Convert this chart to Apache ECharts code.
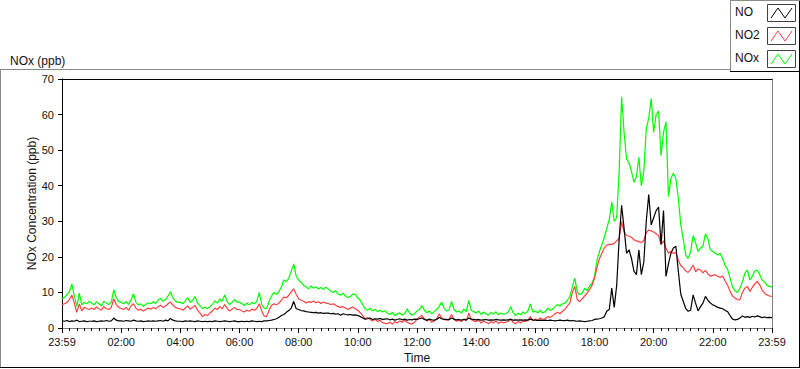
<!DOCTYPE html>
<html><head><meta charset="utf-8">
<script src="https://cdn.jsdelivr.net/npm/echarts@6/dist/echarts.min.js"></script>
<style>html,body{margin:0;padding:0;background:#fff}#c{width:800px;height:369px}</style>
</head><body><div id="c"></div>
<script>
// ---- data ----
const seriesNames = ['NO', 'NO2', 'NOx'];
const seriesColors = ['#000000', '#ff4040', '#00ff00'];
const titleText = 'NOx (ppb)';
const yAxisTitle = 'NOx Concentration (ppb)';
const xAxisTitle = 'Time';
const xTickLabels = ['23:59','02:00','04:00','06:00','08:00','10:00','12:00','14:00','16:00','18:00','20:00','22:00','23:59'];
const yTicks = [0, 10, 20, 30, 40, 50, 60, 70];
const STEP_MIN = 5; // one sample every 5 minutes, starting 23:59

const noValues = [
 2.0,1.9,2.1,1.8,2.0,1.9,2.2,1.8,1.9,2.0,1.8,1.9,
 1.9,2.0,1.8,1.9,2.0,1.9,2.1,1.9,2.0,2.8,2.2,2.0,
 2.0,1.9,2.1,2.0,1.9,2.2,2.0,1.9,2.0,1.8,1.9,2.0,
 1.9,2.0,1.9,2.0,2.1,1.9,2.2,2.0,2.7,2.2,2.0,1.9,
 1.9,1.8,2.0,1.9,2.0,1.9,1.8,2.0,1.9,1.8,1.9,1.8,
 1.9,1.8,2.0,1.9,1.8,1.9,2.0,1.9,1.8,1.9,2.0,1.8,
 1.8,1.9,1.8,1.9,1.8,2.0,1.9,1.8,1.9,1.8,2.0,2.0,
 2.1,2.2,2.4,2.6,3.0,3.5,3.8,4.4,4.9,5.6,7.5,5.4,
 5.2,4.9,4.8,4.6,4.5,4.4,4.3,4.4,4.2,4.3,4.1,4.2,
 4.2,4.0,4.1,3.9,4.0,3.6,4.0,3.8,3.7,3.8,3.6,3.7,
 3.5,3.2,2.8,2.5,2.6,2.8,2.4,2.6,2.5,2.7,2.4,2.5,
 2.6,2.3,2.5,2.2,2.4,2.6,2.3,2.5,2.2,2.4,2.3,2.5,
 2.4,2.6,2.8,2.4,2.2,2.5,2.3,2.2,2.4,3.0,2.6,2.4,
 2.4,2.3,2.8,2.5,2.3,2.4,2.2,2.4,2.3,2.8,2.5,2.4,
 2.3,2.4,2.2,2.3,2.4,2.2,2.3,2.2,2.4,2.3,2.2,2.3,
 2.2,2.3,2.4,2.2,2.3,2.2,2.3,2.2,2.3,2.2,2.5,2.3,
 2.2,2.1,2.2,2.1,2.2,2.1,2.2,2.1,2.0,2.1,2.2,2.1,
 2.1,2.2,2.0,2.1,2.0,1.9,2.0,1.9,1.8,1.9,2.0,2.1,
 2.4,2.5,2.6,2.8,3.2,4.7,5.2,11.2,5.8,12.0,25.0,34.5,
 28.0,21.0,22.0,19.6,16.0,15.0,22.0,15.0,18.5,30.0,37.5,29.0,
 31.0,33.0,34.0,23.5,33.0,14.5,18.0,21.0,22.5,23.0,16.0,9.5,
 7.5,5.5,4.7,5.0,9.3,7.0,4.8,6.0,7.0,8.9,7.8,7.0,
 6.5,6.2,5.8,5.6,5.4,4.9,4.6,3.5,2.5,2.3,2.4,2.8,
 3.4,3.0,3.2,3.0,3.3,3.1,3.4,3.2,2.9,3.1,2.9,3.0,
 2.9
];

const no2Values = [
 6.5,6.8,7.2,8.0,9.2,7.0,4.4,6.8,4.8,5.8,5.5,5.2,
 5.6,5.2,5.9,5.4,5.0,6.0,5.5,5.2,5.8,8.2,6.6,5.8,
 5.5,5.2,5.8,5.0,6.2,6.8,5.6,5.0,5.3,4.8,5.2,5.6,
 5.3,5.8,5.4,6.0,6.4,5.8,6.2,6.8,7.3,6.4,5.8,5.5,
 5.4,5.0,5.6,6.2,5.3,5.8,6.3,5.0,4.2,3.2,3.8,3.5,
 4.2,4.8,5.6,5.2,6.0,5.4,6.6,5.5,4.8,5.3,5.8,5.2,
 5.2,4.8,4.5,5.0,4.7,5.3,5.0,5.5,6.8,4.8,3.4,3.2,
 5.0,6.3,6.8,6.5,7.0,7.8,8.7,8.5,9.2,10.2,11.0,9.5,
 8.2,7.8,7.5,7.0,7.4,7.2,7.6,7.1,7.4,6.9,7.3,7.0,
 6.9,6.6,6.8,6.4,6.0,5.8,6.0,5.6,5.2,5.6,5.9,5.4,
 4.9,4.3,3.5,2.5,3.0,2.4,2.0,2.5,1.8,2.2,1.5,1.3,
 1.2,1.6,1.1,1.8,1.4,2.0,1.6,2.2,1.6,1.3,1.1,1.6,
 2.5,3.0,3.5,2.6,2.0,2.4,1.6,2.0,2.6,4.0,2.8,2.4,
 2.2,2.5,3.8,2.4,1.9,2.2,1.8,2.5,2.0,4.2,2.4,2.0,
 1.8,2.2,1.4,1.9,1.6,1.2,1.8,1.4,2.0,1.3,1.7,1.5,
 1.6,1.9,2.6,1.6,1.2,1.8,1.4,2.0,1.8,2.2,3.2,2.0,
 2.5,2.2,2.8,2.4,2.6,3.2,3.0,3.4,4.0,4.4,4.0,4.7,
 5.2,6.2,7.0,10.0,11.7,8.0,7.4,8.2,9.0,9.8,10.8,12.0,
 14.0,17.0,19.5,21.0,22.5,23.3,23.5,23.5,23.8,24.5,25.2,29.9,
 27.0,26.0,25.8,25.5,24.8,24.5,24.3,24.0,24.6,26.8,27.5,27.3,
 27.0,26.5,26.0,23.5,24.5,22.5,21.0,21.5,21.0,21.2,19.1,17.5,
 17.0,16.0,15.6,16.5,17.7,15.8,16.6,16.3,15.5,16.2,15.2,14.6,
 14.8,15.0,14.5,14.2,14.6,13.2,12.0,10.3,9.0,8.4,8.0,7.9,
 10.0,11.2,11.7,10.3,11.4,12.4,13.1,12.2,10.6,9.8,9.3,9.0,
 8.9
];

const noxValues = [
 8.3,8.6,9.4,10.2,12.3,9.0,6.0,9.8,6.5,7.2,6.8,7.5,
 7.0,6.5,7.4,6.8,6.2,7.5,7.0,6.6,7.2,10.8,8.5,7.4,
 7.2,6.8,7.5,6.6,7.9,9.6,7.2,6.5,6.8,6.0,6.7,7.1,
 6.8,7.4,6.9,7.8,8.3,7.5,8.0,9.0,10.2,8.4,7.6,7.2,
 7.3,6.8,7.6,8.5,7.2,7.8,8.8,7.0,6.2,5.5,5.8,5.4,
 6.0,6.6,7.6,7.0,8.1,7.5,9.3,7.4,6.6,7.2,8.0,7.3,
 7.3,6.8,6.3,7.0,6.5,7.2,6.8,7.5,10.0,6.6,5.6,5.4,
 7.5,9.0,10.0,9.5,10.2,11.5,13.5,13.0,14.0,16.0,18.0,14.5,
 13.5,12.8,12.0,11.6,11.0,11.8,11.2,11.6,11.0,11.4,10.8,11.5,
 11.0,10.4,10.0,10.5,9.6,9.2,9.8,9.0,8.6,8.8,9.6,9.4,
 8.5,7.8,6.5,5.4,5.0,5.6,4.8,5.3,4.6,5.0,4.5,4.9,
 4.2,3.8,4.4,3.5,3.9,4.3,3.6,4.0,5.4,4.2,3.6,4.0,
 4.8,5.2,6.3,5.0,4.3,4.8,4.0,4.6,5.2,6.0,7.3,5.5,
 4.8,5.0,7.5,5.2,4.5,4.8,4.2,5.3,4.6,7.8,5.0,4.6,
 4.2,4.8,3.8,4.5,4.0,3.6,4.4,3.9,4.6,3.7,4.2,3.9,
 4.0,4.5,6.0,4.3,3.5,4.2,3.7,4.5,4.1,4.8,6.8,4.4,
 4.8,4.3,5.0,4.2,4.6,5.6,5.0,5.3,6.0,6.6,6.2,6.8,
 7.0,7.8,8.8,11.5,14.0,10.2,9.4,9.8,11.2,10.5,11.8,12.5,
 14.5,19.0,21.5,23.5,25.5,28.0,30.5,35.5,30.0,31.0,44.0,65.0,
 55.0,47.5,46.5,44.0,41.0,42.5,48.0,40.0,44.0,56.0,59.0,64.5,
 55.0,60.0,61.0,48.5,55.0,58.0,37.0,42.0,43.5,42.0,36.5,29.0,
 25.0,20.5,19.5,21.5,26.0,24.0,21.5,22.5,23.0,26.5,25.0,22.0,
 21.5,21.0,20.5,21.0,19.5,17.5,16.5,14.0,11.5,10.5,10.0,11.2,
 13.0,15.4,16.3,13.5,14.5,16.0,16.3,15.0,13.5,13.0,12.0,11.7,
 11.5
];

// ---- chart ----
const FONT = 'Liberation Sans, Arial, sans-serif';
const TXT = '#111';
const toPairs = vals => vals.map((v, i) => [i * STEP_MIN, v]);
const xMax = (xTickLabels.length - 1) * 120;
const valueSets = [noValues, no2Values, noxValues];

const G = { left: 62, top: 79, width: 710, height: 250 };

const legendGraphics = [];
seriesNames.forEach((name, i) => {
  const cy = 13 + i * 23;
  legendGraphics.push({
    type: 'text', left: 735, top: cy - 7,
    style: { text: name, font: '12px ' + FONT, fill: TXT }
  });
  legendGraphics.push({
    type: 'rect', shape: { x: 767.5, y: cy - 8.5, width: 28, height: 17 },
    style: { fill: '#fff', stroke: '#404040', lineWidth: 1 }
  });
  legendGraphics.push({
    type: 'polyline',
    shape: { points: [[771, cy + 5], [778, cy - 5], [785, cy + 5], [792, cy - 5]] },
    style: { stroke: seriesColors[i], lineWidth: 1, fill: null }
  });
});

const frameGraphics = [
  { type: 'line', shape: { x1: 0, y1: 69.5, x2: 730, y2: 69.5 }, style: { stroke: '#8a8a8a', lineWidth: 1 } },
  { type: 'line', shape: { x1: 0.5, y1: 69, x2: 0.5, y2: 368 }, style: { stroke: '#8a8a8a', lineWidth: 1 } },
  { type: 'line', shape: { x1: 0, y1: 367.5, x2: 800, y2: 367.5 }, style: { stroke: '#000', lineWidth: 1 } },
  { type: 'line', shape: { x1: 799.5, y1: 0, x2: 799.5, y2: 368 }, style: { stroke: '#000', lineWidth: 1 } },
  { type: 'line', shape: { x1: 730.5, y1: 0, x2: 730.5, y2: 72 }, style: { stroke: '#8a8a8a', lineWidth: 1 } },
  { type: 'line', shape: { x1: 730, y1: 71.5, x2: 800, y2: 71.5 }, style: { stroke: '#000', lineWidth: 1 } },
  { type: 'line', shape: { x1: 730, y1: 0.5, x2: 800, y2: 0.5 }, style: { stroke: '#8a8a8a', lineWidth: 1 } }
];

const chart = echarts.init(document.getElementById('c'), null, { renderer: 'svg' });
chart.setOption({
  animation: false,
  backgroundColor: '#fff',
  textStyle: { fontFamily: FONT, color: TXT },
  title: {
    text: titleText, left: 5, top: 50,
    textStyle: { fontSize: 12, fontWeight: 'normal', color: TXT, fontFamily: FONT }
  },
  grid: Object.assign({ containLabel: false }, G),
  xAxis: [{
    type: 'value', min: 0, max: xMax, interval: 120, position: 'bottom',
    name: xAxisTitle, nameLocation: 'middle', nameGap: 24, nameMoveOverlap: false,
    nameTextStyle: { fontSize: 12, color: TXT, fontFamily: FONT },
    axisLine: { show: true, onZero: false, lineStyle: { color: '#808080', width: 1 } },
    axisTick: { show: true, length: 5, lineStyle: { color: '#000' } },
    minorTick: { show: true, splitNumber: 8, length: 3, lineStyle: { color: '#000' } },
    splitLine: { show: false },
    axisLabel: {
      show: true, fontSize: 11, color: TXT, margin: 8, fontFamily: FONT,
      showMinLabel: true, showMaxLabel: true, hideOverlap: false,
      formatter: v => xTickLabels[Math.round(v / 120)] || ''
    }
  }, {
    type: 'value', min: 0, max: xMax, position: 'top',
    axisLine: { show: true, onZero: false, lineStyle: { color: '#000', width: 1 } },
    axisTick: { show: false }, axisLabel: { show: false }, splitLine: { show: false }
  }],
  yAxis: [{
    type: 'value', min: yTicks[0], max: yTicks[yTicks.length - 1], interval: 10, position: 'left',
    name: yAxisTitle, nameLocation: 'middle', nameGap: 24, nameRotate: 90, nameMoveOverlap: false,
    nameTextStyle: { fontSize: 12, color: TXT, fontFamily: FONT },
    axisLine: { show: true, onZero: false, lineStyle: { color: '#000', width: 1 } },
    axisTick: { show: true, length: 4, lineStyle: { color: '#000' } },
    splitLine: { show: false },
    axisLabel: { fontSize: 11, color: TXT, margin: 8, fontFamily: FONT }
  }, {
    type: 'value', min: yTicks[0], max: yTicks[yTicks.length - 1], position: 'right',
    axisLine: { show: true, onZero: false, lineStyle: { color: '#808080', width: 1 } },
    axisTick: { show: false }, axisLabel: { show: false }, splitLine: { show: false }
  }],
  series: [2, 1, 0].map(i => ({
    name: seriesNames[i], type: 'line', xAxisIndex: 0, yAxisIndex: 0,
    data: toPairs(valueSets[i]), showSymbol: false, symbol: 'none',
    lineStyle: { color: seriesColors[i], width: 1.2 }, itemStyle: { color: seriesColors[i] },
    z: 3 - i, silent: true
  })),
  graphic: frameGraphics.concat(legendGraphics)
});
</script>
</body></html>
